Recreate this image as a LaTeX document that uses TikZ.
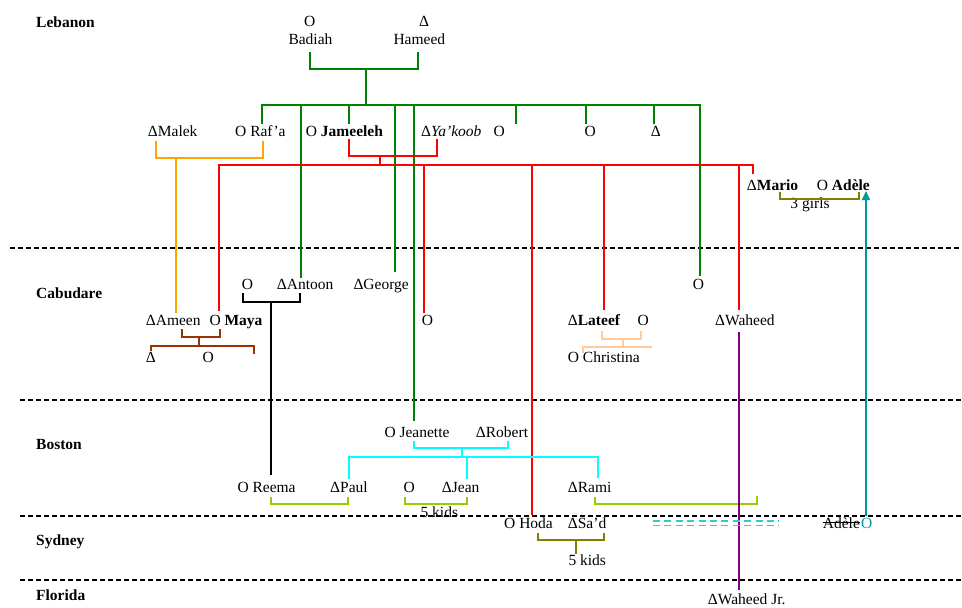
\documentclass[tikz,border=0pt]{standalone}
\usepackage{fontspec}
\setmainfont{Liberation Serif}
\usetikzlibrary{arrows.meta,calc}
\definecolor{cgrn}{RGB}{0,128,0}
\definecolor{cred}{RGB}{255,0,0}
\definecolor{corg}{RGB}{255,165,0}
\definecolor{cbrn}{RGB}{153,51,0}
\definecolor{cpch}{RGB}{255,204,153}
\definecolor{ccyn}{RGB}{0,255,255}
\definecolor{cylg}{RGB}{153,204,0}
\definecolor{colv}{RGB}{128,128,0}
\definecolor{cpur}{RGB}{128,0,128}
\definecolor{ctea}{RGB}{0,153,153}
\definecolor{caqu}{RGB}{51,204,204}
\newcommand{\fs}{\fontsize{15.5}{18}\selectfont}
\begin{document}
\begin{tikzpicture}[x=1pt,y=-1pt,
  lbl/.style={inner sep=0pt, anchor=base west, font=\fs},
  lblc/.style={inner sep=0pt, anchor=base, font=\fs},
  region/.style={inner sep=0pt, anchor=base west, font=\fs\bfseries},
  link/.style={line width=2pt},
  sep/.style={line width=1.5pt, dash pattern=on 5pt off 3pt}]
\useasboundingbox[fill=white] (0,0) rectangle (962,608);

% separators
\draw[sep] (10,248) -- (962,248);
\draw[sep] (20,400) -- (962,400);
\draw[sep] (20,516) -- (962,516);
\draw[sep] (20,580) -- (962,580);

% region labels
\node[region] (lebanon) at (36,27) {Lebanon};
\node[region] (cabudare) at (36,298) {Cabudare};
\node[region] (boston) at (36,449) {Boston};
\node[region] (sydney) at (36,545) {Sydney};
\node[region] (florida) at (36,600) {Florida};

% generation 1
\node[lbl] (badO) at (304,26) {O};
\node[lbl] (badiah) at (288.3,44.3) {Badiah};
\node[lbl] (hamD) at (419,26) {Δ};
\node[lbl] (hameed) at (393.3,44.3) {Hameed};

% generation 2
\node[lbl] (malek) at (147.7,136) {ΔMalek};
\node[lbl] (rafa) at (235,136) {O Raf’a};
\node[lbl] (jameeleh) at (305.7,136) {O \textbf{Jameeleh}};
\node[lbl] (yakoob) at (421,136) {Δ\textit{Ya’koob}};
\node[lbl] (sibA) at (493.3,136) {O};
\node[lbl] (sibB) at (584.3,136) {O};
\node[lbl] (sibC) at (650.7,136) {Δ};
\node[lbl] (mario) at (746.7,190.7) {Δ\textbf{Mario}};
\node[lbl] (adele) at (816.7,190.7) {O \textbf{Adèle}};
\node[lblc] (girls) at (810,208.3) {3 girls};

% Cabudare
\node[lbl] (antW) at (241.7,289.3) {O};
\node[lbl] (antoon) at (276.7,289.3) {ΔAntoon};
\node[lbl] (george) at (353.3,289.3) {ΔGeorge};
\node[lbl] (ameen) at (145.7,325.7) {ΔAmeen};
\node[lbl] (maya) at (209.3,325.7) {O \textbf{Maya}};
\node[lbl] (redO) at (421.7,325.7) {O};
\node[lbl] (mayaS) at (145.7,362.7) {Δ};
\node[lbl] (mayaD) at (202.3,362.7) {O};
\node[lbl] (lateef) at (567.7,325.7) {Δ\textbf{Lateef}};
\node[lbl] (latW) at (637.3,325.7) {O};
\node[lbl] (christina) at (567.7,362.3) {O Christina};
\node[lbl] (grnO) at (692.7,289) {O};
\node[lbl] (waheed) at (715,325.7) {ΔWaheed};

% Boston
\node[lbl] (jeanette) at (384.3,437.3) {O Jeanette};
\node[lbl] (robert) at (475.7,437.3) {ΔRobert};
\node[lbl] (reema) at (237.3,492.3) {O Reema};
\node[lbl] (paul) at (330,492.3) {ΔPaul};
\node[lbl] (jeanW) at (403.3,492.3) {O};
\node[lbl] (jean) at (441.7,492.3) {ΔJean};
\node[lbl] (rami) at (567.7,492.3) {ΔRami};
\node[lblc] (kidsA) at (439.3,517.3) {5 kids};

% Sydney / Florida
\node[lbl] (hoda) at (504,528.7) {O Hoda};
\node[lbl] (sad) at (567.7,528.7) {ΔSa’d};
\node[lbl] (kidsB) at (568.3,565.3) {5 kids};
\node[lbl] (adeleS) at (822.7,528) {Adèle};
\node[lbl, text=ctea] (adeleO) at (861,528) {O};
\node[lbl] (waheedjr) at (707.7,604) {ΔWaheed Jr.};
\draw[line width=0.8pt] ($(adeleS.base west)+(0,-5.3)$) -- ($(adeleS.base east)+(0,-5.3)$);

% green family
\draw[link,cgrn] (310,52) |- (366,69) -| (417.5,52);
\draw[link,cgrn] (366,69) -- (366,105);
\draw[link,cgrn] (262,124) |- (700,105) -- (700,276);
\draw[link,cgrn] (301,105) -- (301,278);
\draw[link,cgrn] (349,105) -- (349,124);
\draw[link,cgrn] (395,105) -- (395,272);
\draw[link,cgrn] (414,105) -- (414,421);
\draw[link,cgrn] (516,105) -- (516,124);
\draw[link,cgrn] (585.5,105) -- (585.5,124);
\draw[link,cgrn] (653.5,105) -- (653.5,124);

% orange
\draw[link,corg] (156,141) |- (176,158) -| (262.5,141);
\draw[link,corg] (176,158) -- (176,313);

% red
\draw[link,cred] (349,139) |- (380,156) -| (436.5,139);
\draw[link,cred] (380,156) -- (380,165);
\draw[link,cred] (219,311) |- (753,165) -- (753,173.5);
\draw[link,cred] (424,165) -- (424,313);
\draw[link,cred] (531.5,165) -- (531.5,515);
\draw[link,cred] (604,165) -- (604,310);
\draw[link,cred] (738.5,165) -- (738.5,310);

% black
\draw[link,black] (243,293) |- (270.7,301.7) -| (300,293);
\draw[link,black] (270.7,301.7) -- (270.7,475);

% brown
\draw[link,cbrn] (182,329) |- (199,337.3) -| (220,329);
\draw[link,cbrn] (199,337.3) -- (199,346);
\draw[link,cbrn] (151,350.5) |- (199,346) -| (254.3,354);

% peach
\draw[link,cpch] (602.3,331) |- (623.3,339) -| (641,331);
\draw[link,cpch] (623.3,339) -- (623.3,347);
\draw[link,cpch] (583.3,353) |- (651.7,347);

% olive
\draw[link,colv] (780,191.5) |- (810,199) -| (859.3,191.5);
\draw[link,colv] (538,533) |- (576,540) -| (604,533);
\draw[link,colv] (576,540) -- (576,554);

% cyan
\draw[link,ccyn] (413.5,441) |- (461.7,448) -| (508.3,441);
\draw[link,ccyn] (461.7,448) -- (461.7,457);
\draw[link,ccyn] (349,479) |- (598.3,457) -- (598.3,478);
\draw[link,ccyn] (467.3,457) -- (467.3,479);

% yellow-green
\draw[link,cylg] (271,497) |- (310,504.3) -| (348.3,497);
\draw[link,cylg] (405,497) |- (430,504.3) -| (466.7,497);
\draw[link,cylg] (595,497) |- (680,504.3) -| (757.3,495.7);

% purple
\draw[link,cpur] (739.3,332) -- (739.3,590);

% aqua double dashes
\draw[caqu, line width=1.2pt, dash pattern=on 7pt off 4.4pt] (653,521) -- (779,521);
\draw[caqu, line width=1.2pt, dash pattern=on 7pt off 4.4pt] (653,525.7) -- (779,525.7);

% teal arrow
\draw[link,ctea,-{Triangle[length=9pt,width=8pt]}] (866,516) -- (866,191);
\end{tikzpicture}
\end{document}
